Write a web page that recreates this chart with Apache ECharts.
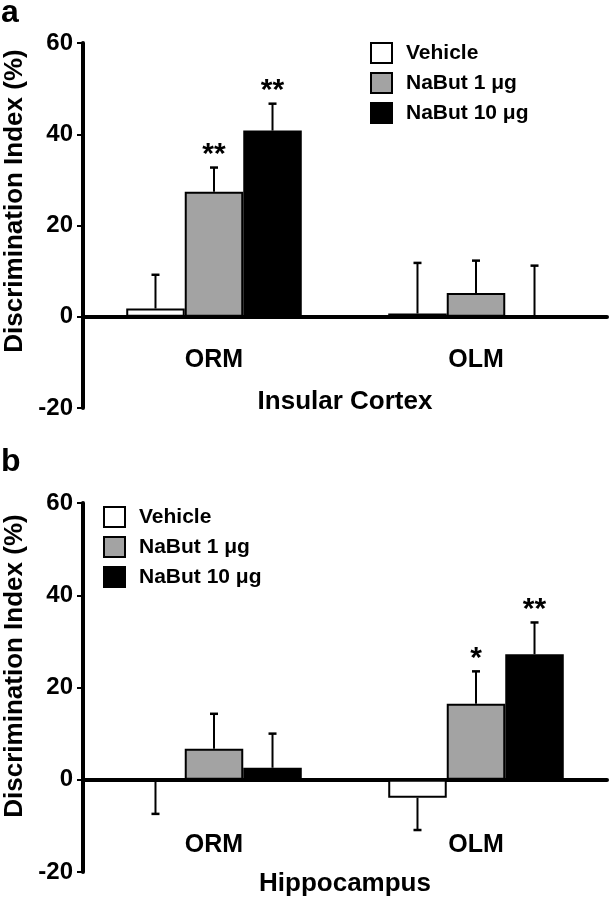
<!DOCTYPE html>
<html><head><meta charset="utf-8">
<script src="https://cdn.jsdelivr.net/npm/echarts@6/dist/echarts.min.js"></script>
<style>html,body{margin:0;padding:0;background:#fff}#c{width:609px;height:900px}</style>
</head><body><div id="c"></div>
<script>
// ---- data ----
const categories = ['ORM', 'OLM'];
const groupNames = ['Vehicle', 'NaBut 1 μg', 'NaBut 10 μg'];
const yTickValues = [-20, 0, 20, 40, 60];

// Panel a: Insular Cortex (mean, SEM)
const insularVehicle = [1.8, 0.7];
const insularVehicleSem = [7.4, 11.1];
const insularNaBut1 = [27.4, 5.2];
const insularNaBut1Sem = [5.3, 7.1];
const insularNaBut10 = [40.8, 0.3];
const insularNaBut10Sem = [5.9, 10.9];
const insularSig = [['', ''], ['**', ''], ['**', '']];

// Panel b: Hippocampus (mean, SEM)
const hippoVehicle = [-0.3, -3.9];
const hippoVehicleSem = [7.1, 7.0];
const hippoNaBut1 = [6.7, 16.5];
const hippoNaBut1Sem = [7.6, 7.0];
const hippoNaBut10 = [2.6, 27.2];
const hippoNaBut10Sem = [7.4, 6.9];
const hippoSig = [['', ''], ['', '*'], ['', '**']];

// ---- styles ----
const FONT = '"Liberation Sans", Arial, Helvetica, sans-serif';
const groupColors = ['#ffffff', '#a3a3a3', '#000000'];
const CAT_GAP = 0.33;

const chart = echarts.init(document.getElementById('c'), null, {renderer: 'canvas'});

function errRender(sIdx, sigArr) {
  return function (params, api) {
    const cat = api.value(0), mean = api.value(1), sem = api.value(2);
    const band = api.size([1, 0])[0];
    const bw = band * (1 - CAT_GAP) / 3;
    const base = api.coord([cat, mean]);
    const x = base[0] + (sIdx - 1) * bw;
    const dir = mean >= 0 ? 1 : -1;
    const end = api.coord([cat, mean + dir * sem]);
    const y0 = base[1], y1 = end[1];
    const children = [
      {type: 'line', shape: {x1: x, y1: y0, x2: x, y2: y1}, style: {stroke: '#000', lineWidth: 2}},
      {type: 'line', shape: {x1: x - 4, y1: y1, x2: x + 4, y2: y1}, style: {stroke: '#000', lineWidth: 2.5}}
    ];
    const s = sigArr[sIdx][params.dataIndex];
    if (s) {
      children.push({type: 'text', style: {text: s, x: x, y: y1 + 2, align: 'center', verticalAlign: 'bottom',
        font: 'bold 30px ' + FONT, fill: '#000'}});
    }
    return {type: 'group', children: children};
  };
}

function panelSeries(gi, means, sems, sigArr) {
  const out = [];
  for (let s = 0; s < 3; s++) {
    out.push({
      type: 'bar', name: groupNames[s], xAxisIndex: gi, yAxisIndex: gi,
      data: means[s], barGap: '0%', barCategoryGap: (CAT_GAP * 100) + '%',
      itemStyle: {color: groupColors[s], borderColor: '#000', borderWidth: 2},
      emphasis: {disabled: true}, animation: false
    });
  }
  for (let s = 0; s < 3; s++) {
    out.push({
      type: 'custom', name: groupNames[s] + ' err', xAxisIndex: gi, yAxisIndex: gi, z: 5,
      renderItem: errRender(s, sigArr),
      data: means[s].map((m, i) => [i, m, sems[s][i]]), animation: false, silent: true
    });
  }
  return out;
}

function xAxisCfg(gi, name, labelMargin, nameGap) {
  return {
    gridIndex: gi, type: 'category', data: categories,
    axisLine: {onZero: true, lineStyle: {color: '#000', width: 4}},
    axisTick: {show: false},
    axisLabel: {color: '#000', fontFamily: FONT, fontWeight: 'bold', fontSize: 25, margin: labelMargin},
    name: name, nameLocation: 'middle', nameGap: nameGap,
    nameTextStyle: {color: '#000', fontFamily: FONT, fontWeight: 'bold', fontSize: 26}
  };
}
function yAxisCfg(gi) {
  return {
    gridIndex: gi, type: 'value', min: yTickValues[0], max: yTickValues[yTickValues.length - 1],
    interval: yTickValues[1] - yTickValues[0],
    axisLine: {show: true, lineStyle: {color: '#000', width: 4}},
    axisTick: {show: true, length: 6, lineStyle: {color: '#000', width: 2}},
    splitLine: {show: false},
    axisLabel: {color: '#000', fontFamily: FONT, fontWeight: 'bold', fontSize: 24, margin: 10}
  };
}
function legendCfg(left, top) {
  return {
    orient: 'vertical', left: left, top: top, itemWidth: 21, itemHeight: 20, itemGap: 8,
    icon: 'rect', selectedMode: false, data: groupNames, padding: 0,
    textStyle: {color: '#000', fontFamily: FONT, fontWeight: 'bold', fontSize: 21, padding: [0, 0, 0, 9]}
  };
}

const option = {
  backgroundColor: '#fff',
  animation: false,
  grid: [
    {left: 83, right: 2, top: 43, height: 365, outerBoundsMode: 'none', containLabel: false},
    {left: 83, right: 2, top: 503, height: 369, outerBoundsMode: 'none', containLabel: false}
  ],
  xAxis: [xAxisCfg(0, 'Insular Cortex', -60, -19), xAxisCfg(1, 'Hippocampus', -39, -1)],
  yAxis: [yAxisCfg(0), yAxisCfg(1)],
  legend: [legendCfg(370, 42), legendCfg(103, 506)],
  series: [].concat(
    panelSeries(0, [insularVehicle, insularNaBut1, insularNaBut10],
      [insularVehicleSem, insularNaBut1Sem, insularNaBut10Sem], insularSig),
    panelSeries(1, [hippoVehicle, hippoNaBut1, hippoNaBut10],
      [hippoVehicleSem, hippoNaBut1Sem, hippoNaBut10Sem], hippoSig)
  ),
  graphic: [
    {type: 'text', x: 1, y: -3, style: {text: 'a', font: 'bold 32px ' + FONT, fill: '#000'}},
    {type: 'text', x: 1, y: 446, style: {text: 'b', font: 'bold 32px ' + FONT, fill: '#000'}},
    {type: 'text', x: 15, y: 201, rotation: Math.PI / 2,
      style: {text: 'Discrimination Index (%)', font: 'bold 26px ' + FONT, fill: '#000', align: 'center', verticalAlign: 'middle'}},
    {type: 'text', x: 15, y: 666, rotation: Math.PI / 2,
      style: {text: 'Discrimination Index (%)', font: 'bold 26px ' + FONT, fill: '#000', align: 'center', verticalAlign: 'middle'}}
  ]
};
chart.setOption(option);
</script>
</body></html>
